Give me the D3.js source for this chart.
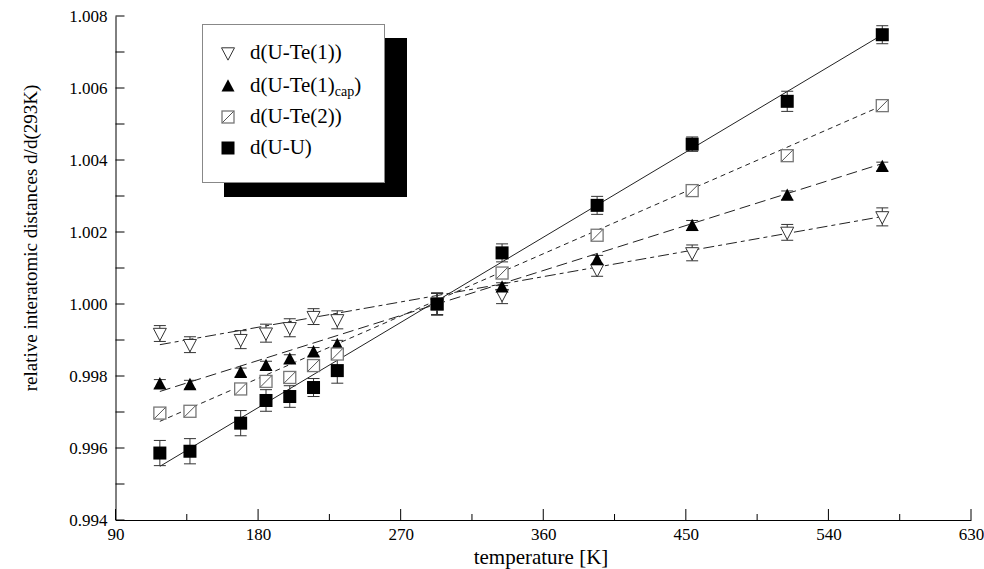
<!DOCTYPE html>
<html><head><meta charset="utf-8">
<script src="https://cdn.jsdelivr.net/npm/d3@7"></script>
<style>body{margin:0;background:#fff}svg{display:block}</style>
</head><body><svg id="c" width="984" height="569"></svg>
<script>
const temperatures = [118, 137, 169, 185, 200, 215, 230, 293, 334, 394, 454, 514, 574];
const uTe1    = [0.99918, 0.99887, 0.99901, 0.99919, 0.99934, 0.99965, 0.99956, 1.00000, 1.00026, 1.00095, 1.00142, 1.00199, 1.00242];
const uTe1Err = [0.00022, 0.00022, 0.00025, 0.00025, 0.00025, 0.00022, 0.00025, 0.00030, 0.00025, 0.00018, 0.00022, 0.00022, 0.00025];
const uTe1cap = [0.99778, 0.99776, 0.99810, 0.99829, 0.99847, 0.99867, 0.99887, 1.00000, 1.00047, 1.00123, 1.00218, 1.00302, 1.00382];
const uTe1capErr = [0.00012, 0.00012, 0.00012, 0.00012, 0.00012, 0.00012, 0.00012, 0.00030, 0.00012, 0.00012, 0.00014, 0.00012, 0.00012];
const uTe2    = [0.99697, 0.99702, 0.99764, 0.99785, 0.99796, 0.99829, 0.99861, 1.00000, 1.00086, 1.00191, 1.00315, 1.00412, 1.00551];
const uTe2Err = [0.00012, 0.00012, 0.00014, 0.00014, 0.00014, 0.00014, 0.00014, 0.00030, 0.00012, 0.00012, 0.00012, 0.00014, 0.00014];
const uU      = [0.99586, 0.99591, 0.99669, 0.99732, 0.99743, 0.99768, 0.99815, 1.00000, 1.00142, 1.00274, 1.00444, 1.00563, 1.00748];
const uUErr   = [0.00035, 0.00035, 0.00035, 0.00030, 0.00030, 0.00025, 0.00035, 0.00030, 0.00025, 0.00025, 0.00020, 0.00028, 0.00025];
// linear fit lines: value at first and last temperature
const fitT = [118, 574];
const fitUTe1 = [0.99887, 1.00243];
const fitUTe1cap = [0.99757, 1.00390];
const fitUTe2 = [0.99674, 1.00551];
const fitUU = [0.99549, 1.00748];
const xTicks = [90, 180, 270, 360, 450, 540, 630];
const yTicks = [0.994, 0.996, 0.998, 1.000, 1.002, 1.004, 1.006, 1.008];
const legendLabels = ["d(U-Te(1))", "d(U-Te(1)cap)", "d(U-Te(2))", "d(U-U)"];

const FONT = "'Liberation Serif', 'DejaVu Serif', serif";
const svg = d3.select("#c").attr("font-family", FONT);
const L = 115.5, R = 971, T = 16, B = 520;
const x = d3.scaleLinear().domain([90, 630]).range([L, R]);
const y = d3.scaleLinear().domain([0.994, 1.008]).range([B, T]);

// axes
const gx = svg.append("g").attr("transform", `translate(0,${B})`);
gx.call(d3.axisBottom(x).tickValues(xTicks).tickSize(0).tickPadding(8).tickFormat(d3.format("d")));
gx.attr("font-family", FONT).attr("font-size", 17);
gx.select(".domain").attr("stroke", "#000");
gx.selectAll("text").attr("fill", "#000").style("font-family", FONT).style("font-size", "17px");
d3.range(90, 631, 45).forEach(v => {
  const major = v % 90 === 0;
  gx.append("line").attr("x1", x(v)).attr("x2", x(v)).attr("y1", 0).attr("y2", major ? -11 : -6).attr("stroke", "#000");
});
const gy = svg.append("g").attr("transform", `translate(${L},0)`);
gy.call(d3.axisLeft(y).tickValues(yTicks).tickSize(0).tickPadding(8).tickFormat(d3.format(".3f")));
gy.attr("font-family", FONT).attr("font-size", 17);
gy.select(".domain").attr("stroke", "#000");
gy.selectAll("text").attr("fill", "#000").style("font-family", FONT).style("font-size", "17px");
d3.range(0, 15).forEach(i => {
  const v = 0.994 + i * 0.001;
  gy.append("line").attr("x1", 0).attr("x2", 9).attr("y1", y(v)).attr("y2", y(v)).attr("stroke", "#000");
});

svg.append("text").attr("x", 541).attr("y", 564).attr("text-anchor", "middle").style("font-family", FONT).style("font-size", "21px").text("temperature [K]");
svg.append("text").attr("transform", `translate(37,238) rotate(-90)`).attr("text-anchor", "middle").style("font-family", FONT).style("font-size", "19px").text("relative interatomic distances d/d(293K)");

// fit lines
const fits = [[fitUTe1, "11,4,4,4"], [fitUTe1cap, "11,5"], [fitUTe2, "5,4"], [fitUU, null]];
fits.forEach(([f, dash]) => {
  const ln = svg.append("line").attr("x1", x(fitT[0])).attr("x2", x(fitT[1])).attr("y1", y(f[0])).attr("y2", y(f[1]))
    .attr("stroke", "#222").attr("stroke-width", 1);
  if (dash) ln.attr("stroke-dasharray", dash);
});

function marker(g, kind, cx, cy) {
  const s = 6.5;
  if (kind === 0) {
    g.append("path").attr("d", `M${cx - s},${cy - s * 0.8}L${cx + s},${cy - s * 0.8}L${cx},${cy + s * 1.1}Z`).attr("fill", "#fff").attr("stroke", "#333").attr("stroke-width", 1);
  } else if (kind === 1) {
    g.append("path").attr("d", `M${cx - s},${cy + s * 0.85}L${cx + s},${cy + s * 0.85}L${cx},${cy - s * 1.05}Z`).attr("fill", "#000");
  } else if (kind === 2) {
    g.append("rect").attr("x", cx - s + 0.5).attr("y", cy - s + 0.5).attr("width", 2 * s - 1).attr("height", 2 * s - 1).attr("fill", "#fff").attr("stroke", "#777").attr("stroke-width", 1.3);
    g.append("line").attr("x1", cx - s + 1).attr("y1", cy + s - 1).attr("x2", cx + s - 1).attr("y2", cy - s + 1).attr("stroke", "#555").attr("stroke-width", 1);
  } else {
    g.append("rect").attr("x", cx - s).attr("y", cy - s).attr("width", 2 * s).attr("height", 2 * s).attr("fill", "#000");
  }
}

const series = [[uTe1, uTe1Err, 0], [uTe1cap, uTe1capErr, 1], [uTe2, uTe2Err, 2], [uU, uUErr, 3]];
const gp = svg.append("g");
series.forEach(([vals, errs, kind]) => {
  temperatures.forEach((t, i) => {
    const cx = x(t), y1 = y(vals[i] + errs[i]), y2 = y(vals[i] - errs[i]);
    gp.append("line").attr("x1", cx).attr("x2", cx).attr("y1", y1).attr("y2", y2).attr("stroke", "#333");
    [y1, y2].forEach(yy => gp.append("line").attr("x1", cx - 6).attr("x2", cx + 6).attr("y1", yy).attr("y2", yy).attr("stroke", "#333"));
  });
});
series.forEach(([vals, errs, kind]) => {
  temperatures.forEach((t, i) => marker(gp, kind, x(t), y(vals[i])));
});

// legend
const lg = svg.append("g");
lg.append("rect").attr("x", 224).attr("y", 38).attr("width", 183).attr("height", 159).attr("fill", "#000");
lg.append("rect").attr("x", 202.5).attr("y", 24.5).attr("width", 182).attr("height", 158).attr("fill", "#fff").attr("stroke", "#888");
const rows = [53, 86, 117, 148];
legendLabels.forEach((lab, i) => {
  marker(lg, i, 228, rows[i]);
  const t = lg.append("text").attr("x", 250).attr("y", rows[i] + 6).style("font-family", FONT).style("font-size", "21px");
  if (i === 1) {
    t.append("tspan").text("d(U-Te(1)");
    t.append("tspan").style("font-size", "14px").attr("dy", 4).text("cap");
    t.append("tspan").attr("dy", -4).text(")");
  } else t.text(lab);
});
</script></body></html>
